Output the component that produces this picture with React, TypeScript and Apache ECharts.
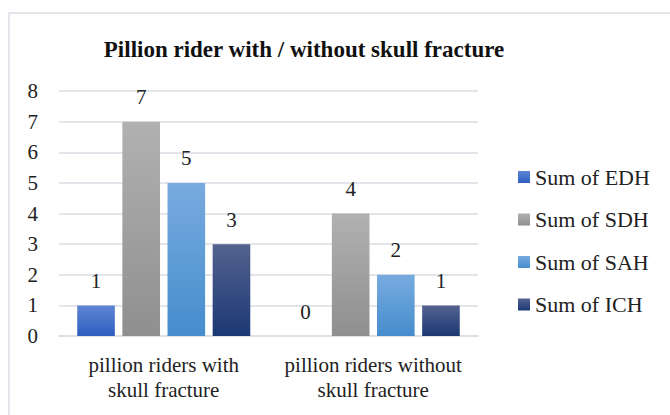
import React, { useEffect, useRef } from "react";
import * as echarts from "echarts";

const categories = ["pillion riders with\nskull fracture", "pillion riders without\nskull fracture"];
const seriesNames = ["Sum of EDH", "Sum of SDH", "Sum of SAH", "Sum of ICH"];
const edh = [1, 0];
const sdh = [7, 4];
const sah = [5, 2];
const ich = [3, 1];
const yTicks = [0, 1, 2, 3, 4, 5, 6, 7, 8];

const FONT = "'Liberation Serif', 'DejaVu Serif', serif";

const grad = (top: string, bottom: string) =>
  new echarts.graphic.LinearGradient(0, 0, 0, 1, [
    { offset: 0, color: top },
    { offset: 1, color: bottom },
  ]);

export default function App() {
  const ref = useRef<HTMLDivElement>(null);
  useEffect(() => {
    if (!ref.current) return;
    const chart = echarts.init(ref.current, undefined, { renderer: "svg" });
    const colors = [
      grad("#5f86d3", "#2f5ec0"),
      grad("#b1b1b1", "#8f8f8f"),
      grad("#78abdf", "#458dcd"),
      grad("#54628f", "#1b3874"),
    ];
    const values = [edh, sdh, sah, ich];
    chart.setOption({
      animation: false,
      backgroundColor: "#ffffff",
      graphic: [
        {
          type: "rect",
          shape: { x: 9, y: 13, width: 700, height: 450 },
          style: { fill: "none", stroke: "#d9dee5", lineWidth: 1.5 },
          silent: true,
        },
      ],
      title: {
        text: "Pillion rider with / without skull fracture",
        left: 299,
        top: 32,
        textAlign: "center",
        textStyle: { fontFamily: FONT, fontSize: 23, fontWeight: "bold", color: "#111", lineHeight: 25 },
      },
      legend: {
        orient: "vertical",
        left: 513,
        top: 161,
        padding: 5,
        itemWidth: 12,
        itemHeight: 12,
        itemGap: 20.5,
        icon: "rect",
        data: seriesNames,
        textStyle: { fontFamily: FONT, fontSize: 22, color: "#222", lineHeight: 22 },
      },
      grid: { left: 59, right: 192, top: 91, bottom: 79, containLabel: false },
      xAxis: {
        type: "category",
        data: categories,
        axisLine: { show: true, lineStyle: { color: "#d9dee5", width: 1.5 } },
        axisTick: { show: false },
        axisLabel: {
          fontFamily: FONT,
          fontSize: 21,
          color: "#222",
          lineHeight: 25,
          margin: 16,
          interval: 0,
        },
      },
      yAxis: {
        type: "value",
        min: 0,
        max: yTicks[yTicks.length - 1],
        interval: 1,
        axisLine: { show: false },
        axisTick: { show: false },
        splitLine: { lineStyle: { color: "#d9dee5", width: 1.5 } },
        axisLabel: { fontFamily: FONT, fontSize: 21, color: "#222", margin: 21 },
      },
      series: seriesNames.map((name, i) => ({
        name,
        type: "bar",
        data: values[i],
        barGap: "20%",
        barCategoryGap: "17.4%",
        itemStyle: { color: colors[i] },
        label: {
          show: true,
          position: "top",
          distance: 14,
          fontFamily: FONT,
          fontSize: 21,
          color: "#222",
        },
      })),
    });
    return () => chart.dispose();
  }, []);
  return (
    <div
      ref={ref}
      style={{ position: "fixed", left: 0, top: 0, width: 670, height: 415 }}
    />
  );
}
